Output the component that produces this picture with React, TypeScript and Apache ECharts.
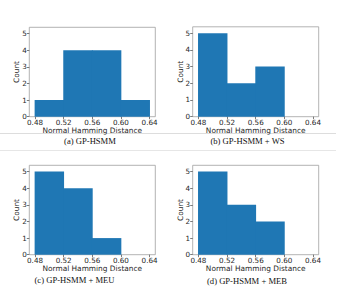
import React, { useEffect, useRef } from "react";
import * as echarts from "echarts";

const binEdges = [0.48, 0.52, 0.56, 0.6, 0.64];
const xTicks = [0.48, 0.52, 0.56, 0.6, 0.64];
const yTicks = [0, 1, 2, 3, 4, 5];
const countsA = [1, 4, 4, 1];
const countsB = [5, 2, 3, 0];
const countsC = [5, 4, 1, 0];
const countsD = [5, 3, 2, 0];
const captions = ["(a) GP-HSMM", "(b) GP-HSMM + WS", "(c) GP-HSMM + MEU", "(d) GP-HSMM + MEB"];
const xName = "Normal Hamming Distance";
const yName = "Count";

const panels = [countsA, countsB, countsC, countsD];
const grids = [
  { left: 29.3, top: 27.3, width: 126, height: 89.4 },
  { left: 192.7, top: 26.8, width: 126, height: 89.9 },
  { left: 29.3, top: 165.3, width: 126, height: 89.4 },
  { left: 192.7, top: 165.3, width: 126, height: 89.4 },
];
const captionPos = [
  [90, 141.3],
  [247.5, 141],
  [74.5, 279.5],
  [247, 280.5],
];

const SANS = "DejaVu Sans";
const SERIF = "Liberation Serif, Times New Roman, serif";
const TXT = "#1f1f1f";
const BAR = "#1f77b4";

export default function App() {
  const ref = useRef<HTMLDivElement>(null);
  useEffect(() => {
    if (!ref.current) return;
    const chart = echarts.init(ref.current, undefined, { renderer: "svg" });
    const option: any = {
      animation: false,
      backgroundColor: "#ffffff",
      grid: grids.map((g) => ({
        ...g,
        show: true,
        borderColor: "#a0a0a0",
        borderWidth: 0.8,
        backgroundColor: "transparent",
      })),
      xAxis: grids.map((_, i) => ({
        type: "value",
        gridIndex: i,
        min: 0.472,
        max: 0.648,
        name: xName,
        nameLocation: "middle",
        nameGap: 9,
        nameTextStyle: { fontFamily: SANS, fontSize: 7.4, color: TXT },
        axisLine: { show: false },
        splitLine: { show: false },
        axisTick: {
          show: true,
          customValues: xTicks,
          length: 2.5,
          lineStyle: { color: "#444", width: 0.7 },
        },
        axisLabel: {
          customValues: xTicks,
          formatter: (v: number) => v.toFixed(2),
          fontFamily: SANS,
          fontSize: 7.2,
          color: TXT,
          margin: 2.5,
        },
      })),
      yAxis: grids.map((_, i) => ({
        type: "value",
        gridIndex: i,
        min: 0,
        max: 5.38,
        name: yName,
        nameLocation: "middle",
        nameGap: 9,
        nameMoveOverlap: false,
        nameRotate: 90,
        nameTextStyle: { fontFamily: SANS, fontSize: 7.4, color: TXT },
        axisLine: { show: false },
        splitLine: { show: false },
        axisTick: {
          show: true,
          customValues: yTicks,
          length: 2.5,
          lineStyle: { color: "#444", width: 0.7 },
        },
        axisLabel: {
          customValues: yTicks,
          formatter: (v: number) => String(Math.round(v)),
          fontFamily: SANS,
          fontSize: 7.2,
          color: TXT,
          margin: 2.5,
        },
      })),
      series: panels.map((counts, i) => ({
        type: "custom",
        xAxisIndex: i,
        yAxisIndex: i,
        encode: { x: [0, 1], y: 2 },
        data: counts
          .map((c, k) => [binEdges[k], binEdges[k + 1], c])
          .filter((d) => d[2] > 0),
        renderItem: (params: any, api: any) => {
          const p0 = api.coord([api.value(0), api.value(2)]);
          const p1 = api.coord([api.value(1), 0]);
          return {
            type: "rect",
            shape: { x: p0[0] - 0.4, y: p0[1], width: p1[0] - p0[0] + 0.8, height: p1[1] - p0[1] },
            style: { fill: BAR },
          };
        },
      })),
      graphic: [
        {
          type: "line",
          shape: { x1: 0, y1: 133.5, x2: 336, y2: 133.5 },
          style: { stroke: "#d4d4d4", lineWidth: 0.8 },
        },
        {
          type: "line",
          shape: { x1: 0, y1: 150.5, x2: 336, y2: 150.5 },
          style: { stroke: "#e0e0e0", lineWidth: 0.8 },
        },
        ...captions.map((t, i) => ({
          type: "text",
          x: captionPos[i][0],
          y: captionPos[i][1],
          style: {
            text: t,
            fontFamily: SERIF,
            fontSize: 8.6,
            fill: "#111",
            align: "center",
            verticalAlign: "middle",
          },
        })),
      ],
    };
    chart.setOption(option);
    return () => chart.dispose();
  }, []);
  return (
    <div
      ref={ref}
      style={{ position: "absolute", left: 0, top: 0, width: 345, height: 304 }}
    />
  );
}
